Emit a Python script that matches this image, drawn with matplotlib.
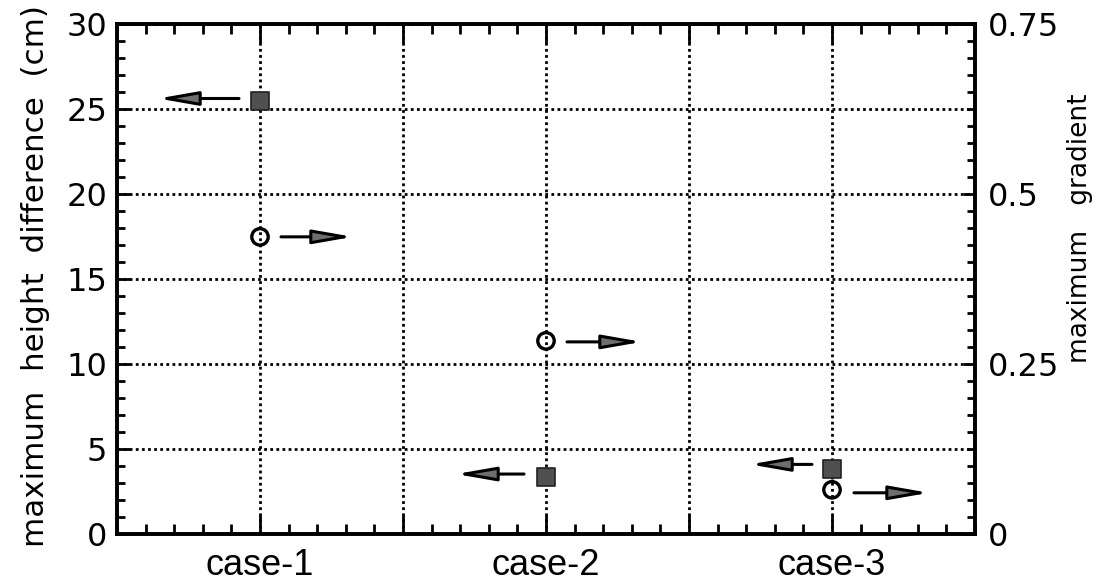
import matplotlib
matplotlib.use("Agg")
import matplotlib.pyplot as plt
from matplotlib.ticker import FixedLocator, MultipleLocator
from matplotlib.transforms import offset_copy

# data
cases = ["case-1", "case-2", "case-3"]
case_pos = [1, 2, 3]
height_diff_cm = [25.5, 3.35, 3.8]        # squares, left axis
max_gradient = [0.437, 0.284, 0.065]      # circles, right axis

# arrow offsets (tail dx, tip dx, dy) in pixels relative to each point
sq_arrows = [(-21, -102, 2), (-22, -90, 3), (-20, -82, 5)]
ci_arrows = [(21, 93, 0), (21, 96, -1), (22, 97, -3)]

W, H, DPI = 1109, 583, 100
fig = plt.figure(figsize=(W / DPI, H / DPI), dpi=DPI)
ax = fig.add_axes([117 / W, 1 - 534 / H, (975 - 117) / W, (534 - 24) / H])
ax2 = ax.twinx()

num_font = ["DejaVu Sans"]
case_font = ["Liberation Sans Narrow", "Liberation Sans", "DejaVu Sans"]

ax.set_xlim(0.5, 3.5)
ax.set_ylim(0, 30)
ax2.set_ylim(0, 0.75)

ax.xaxis.set_major_locator(FixedLocator([1, 1.5, 2, 2.5, 3]))
ax.set_xticklabels(["case-1", "", "case-2", "", "case-3"],
                   fontfamily=case_font, fontsize=26)
ax.xaxis.set_minor_locator(MultipleLocator(0.1))
ax.yaxis.set_major_locator(MultipleLocator(5))
ax.yaxis.set_minor_locator(MultipleLocator(1))
ax2.yaxis.set_major_locator(FixedLocator([0, 0.25, 0.5, 0.75]))
ax2.set_yticklabels(["0", "0.25", "0.5", "0.75"])
ax2.yaxis.set_minor_locator(MultipleLocator(0.025))

for a in (ax, ax2):
    for s in a.spines.values():
        s.set_linewidth(2.6)
ax.tick_params(axis="x", which="both", direction="in", top=True, width=2)
ax.tick_params(axis="x", which="major", length=14, pad=10)
ax.tick_params(axis="x", which="minor", length=7)
ax.tick_params(axis="y", which="both", direction="in", right=False, width=2,
               labelsize=23, pad=7)
ax.tick_params(axis="y", which="major", length=9)
ax.tick_params(axis="y", which="minor", length=6)
ax2.tick_params(axis="y", which="both", direction="in", width=2,
                labelsize=23, pad=9)
ax2.tick_params(axis="y", which="major", length=9)
ax2.tick_params(axis="y", which="minor", length=6)

ax.grid(True, which="major", color="black", linestyle=(0, (1, 1.2)),
        linewidth=2.0)

# squares on the height-difference scale
ax.scatter(case_pos, height_diff_cm, marker="s", s=180, facecolor="#505050",
           edgecolor="#222222", linewidth=1.2, zorder=5, clip_on=False)
# open circles on the gradient scale
ax2.scatter(case_pos, max_gradient, marker="o", s=140, facecolor="none",
            edgecolor="black", linewidth=2.4, zorder=5, clip_on=False)

arrow_kw = dict(arrowstyle="-|>,head_length=2.4,head_width=0.42",
                mutation_scale=10, shrinkA=0, shrinkB=0,
                fc="#6e6e6e", ec="black", lw=2.2)


def draw_arrow(axis, x, y, tail_dx, tip_dx, dy):
    t_tail = offset_copy(axis.transData, fig=fig, x=tail_dx, y=dy, units="dots")
    t_tip = offset_copy(axis.transData, fig=fig, x=tip_dx, y=dy, units="dots")
    axis.annotate("", xy=(x, y), xycoords=t_tip, xytext=(x, y),
                  textcoords=t_tail, arrowprops=arrow_kw, annotation_clip=False)


for x, y, (a, b, d) in zip(case_pos, height_diff_cm, sq_arrows):
    draw_arrow(ax, x, y, a, b, d)
for x, y, (a, b, d) in zip(case_pos, max_gradient, ci_arrows):
    draw_arrow(ax2, x, y, a, b, d)

fig.text(36 / W, 1 - 276 / H, "maximum  height  difference  (cm)",
         rotation=90, ha="center", va="center", fontsize=22.3,
         fontfamily=num_font)
fig.text(1080 / W, 1 - 228 / H, "maximum   gradient",
         rotation=90, ha="center", va="center", fontsize=19,
         fontfamily=num_font)

fig.savefig("out.png", dpi=DPI)
